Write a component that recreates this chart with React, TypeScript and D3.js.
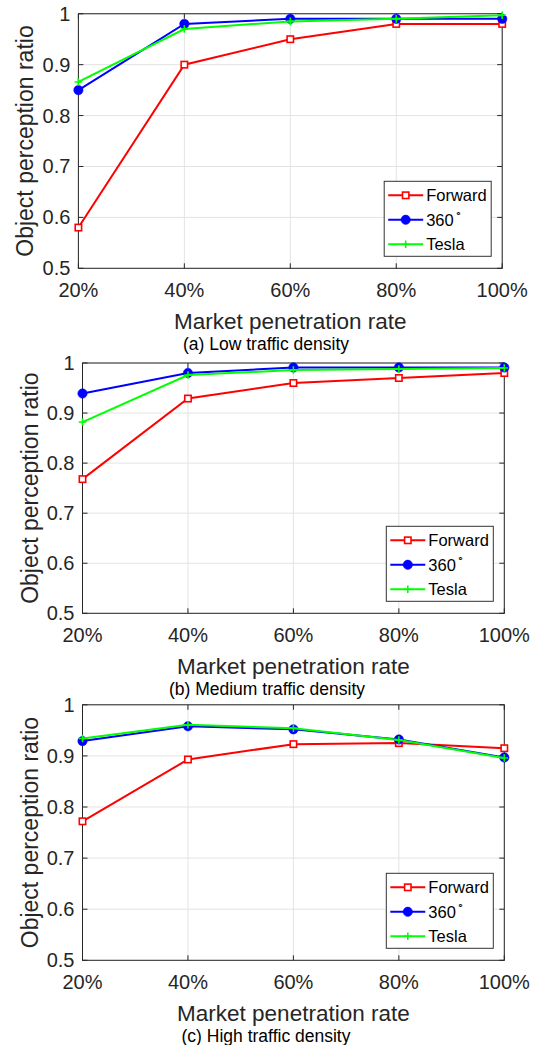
import React from "react";
import * as d3 from "d3";

const rates = [20, 40, 60, 80, 100];
const xTickLabels = ["20%", "40%", "60%", "80%", "100%"];
const yTicks = [0.5, 0.6, 0.7, 0.8, 0.9, 1.0];
const yTickLabels = ["0.5", "0.6", "0.7", "0.8", "0.9", "1"];
const seriesNames = ["Forward", "360", "Tesla"];

const lowForward = [0.58, 0.9, 0.95, 0.98, 0.98];
const low360 = [0.85, 0.98, 0.99, 0.99, 0.99];
const lowTesla = [0.866, 0.97, 0.985, 0.99, 0.997];

const medForward = [0.768, 0.929, 0.96, 0.97, 0.98];
const med360 = [0.939, 0.98, 0.991, 0.991, 0.991];
const medTesla = [0.882, 0.976, 0.986, 0.988, 0.99];

const highForward = [0.772, 0.893, 0.923, 0.925, 0.915];
const high360 = [0.929, 0.958, 0.952, 0.932, 0.897];
const highTesla = [0.934, 0.961, 0.954, 0.931, 0.896];

const captions = ["(a) Low traffic density", "(b) Medium traffic density", "(c) High traffic density"];

const colors = ["#ff0000", "#0000ff", "#00ff00"];
const TEXT = "#262626";
const FONT = "Arial, 'Liberation Sans', Helvetica, sans-serif";

const panels = [
  { left: 78.4, right: 502.2, top: 13.75, bottom: 268.3, data: [lowForward, low360, lowTesla], caption: captions[0], captionY: 349.5, captionX: 266 },
  { left: 82.5, right: 504.3, top: 363, bottom: 613.3, data: [medForward, med360, medTesla], caption: captions[1], captionY: 695, captionX: 267 },
  { left: 82.5, right: 504.3, top: 704.8, bottom: 960.3, data: [highForward, high360, highTesla], caption: captions[2], captionY: 1042, captionX: 266 },
];

function Marker({ i, x, y }: { i: number; x: number; y: number }) {
  if (i === 0)
    return <rect x={x - 3.2} y={y - 3.2} width={6.4} height={6.4} fill="#fff" stroke={colors[0]} strokeWidth={1.6} />;
  if (i === 1) return <circle cx={x} cy={y} r={4.7} fill={colors[1]} stroke={colors[1]} strokeWidth={0.5} />;
  return (
    <path d={`M${x - 3.8},${y}H${x + 3.8}M${x},${y - 3.8}V${y + 3.8}`} stroke={colors[2]} strokeWidth={1.6} fill="none" />
  );
}

function Panel({ p }: { p: (typeof panels)[number] }) {
  const x = d3.scaleLinear().domain([20, 100]).range([p.left, p.right]);
  const y = d3.scaleLinear().domain([0.5, 1.0]).range([p.bottom, p.top]);
  const line = d3
    .line<number>()
    .x((_, i) => x(rates[i]))
    .y((d) => y(d));
  const tk = 5;
  const midY = (p.top + p.bottom) / 2;
  const midX = (p.left + p.right) / 2;
  const lgRight = p.right - 11;
  const lgBottom = p.bottom - 12;
  const lgW = 107;
  const lgH = 75;
  const lgLeft = lgRight - lgW;
  const lgTop = lgBottom - lgH;
  return (
    <g fontFamily={FONT}>
      {rates.map((r) => (
        <line key={"gx" + r} x1={x(r)} x2={x(r)} y1={p.top} y2={p.bottom} stroke="#e3e3e3" strokeWidth={1} />
      ))}
      {yTicks.map((t) => (
        <line key={"gy" + t} x1={p.left} x2={p.right} y1={y(t)} y2={y(t)} stroke="#e3e3e3" strokeWidth={1} />
      ))}
      {rates.map((r) => (
        <g key={"tx" + r} stroke={TEXT} strokeWidth={1}>
          <line x1={x(r)} x2={x(r)} y1={p.bottom} y2={p.bottom - tk} />
          <line x1={x(r)} x2={x(r)} y1={p.top} y2={p.top + tk} />
        </g>
      ))}
      {yTicks.map((t) => (
        <g key={"ty" + t} stroke={TEXT} strokeWidth={1}>
          <line x1={p.left} x2={p.left + tk} y1={y(t)} y2={y(t)} />
          <line x1={p.right} x2={p.right - tk} y1={y(t)} y2={y(t)} />
        </g>
      ))}
      <rect x={p.left} y={p.top} width={p.right - p.left} height={p.bottom - p.top} fill="none" stroke={TEXT} strokeWidth={1} />
      {rates.map((r, i) => (
        <text key={"lx" + r} x={x(r)} y={p.bottom + 29} textAnchor="middle" fontSize={20} fill={TEXT}>
          {xTickLabels[i]}
        </text>
      ))}
      {yTicks.map((t, i) => (
        <text key={"ly" + t} x={p.left - 8} y={y(t) + 7} textAnchor="end" fontSize={20} fill={TEXT}>
          {yTickLabels[i]}
        </text>
      ))}
      <text x={midX} y={p.bottom + 60.5} textAnchor="middle" fontSize={22.5} fill={TEXT}>
        Market penetration rate
      </text>
      <text transform={`translate(${p.left - 45},${midY}) rotate(-90)`} textAnchor="middle" fontSize={23} fill={TEXT}>
        Object perception ratio
      </text>
      <text x={p.captionX} y={p.captionY} textAnchor="middle" fontSize={17.5} fill="#000">
        {p.caption}
      </text>
      {p.data.map((vals, si) => (
        <g key={"s" + si}>
          <path d={line(vals) || ""} fill="none" stroke={colors[si]} strokeWidth={2} />
          {vals.map((v, i) => (
            <Marker key={i} i={si} x={x(rates[i])} y={y(v)} />
          ))}
        </g>
      ))}
      <rect x={lgLeft} y={lgTop} width={lgW} height={lgH} fill="#fff" stroke="#333" strokeWidth={1} />
      {seriesNames.map((n, i) => {
        const cy = lgTop + 14 + i * 24.5;
        return (
          <g key={"lg" + i}>
            <line x1={lgLeft + 4} x2={lgLeft + 39} y1={cy} y2={cy} stroke={colors[i]} strokeWidth={2} />
            <Marker i={i} x={lgLeft + 21.5} y={cy} />
            <text x={lgLeft + 42} y={cy + 6} fontSize={16.5} fill="#000">
              {n}
              {i === 1 ? (
                <tspan fontSize={11} dy={-9} dx={1}>
                  ∘
                </tspan>
              ) : null}
            </text>
          </g>
        );
      })}
    </g>
  );
}

export default function App() {
  return (
    <svg width={539} height={1045} style={{ position: "absolute", left: 0, top: 0, background: "#fff" }}>
      <rect width={539} height={1045} fill="#fff" />
      {panels.map((p, i) => (
        <Panel key={i} p={p} />
      ))}
    </svg>
  );
}
